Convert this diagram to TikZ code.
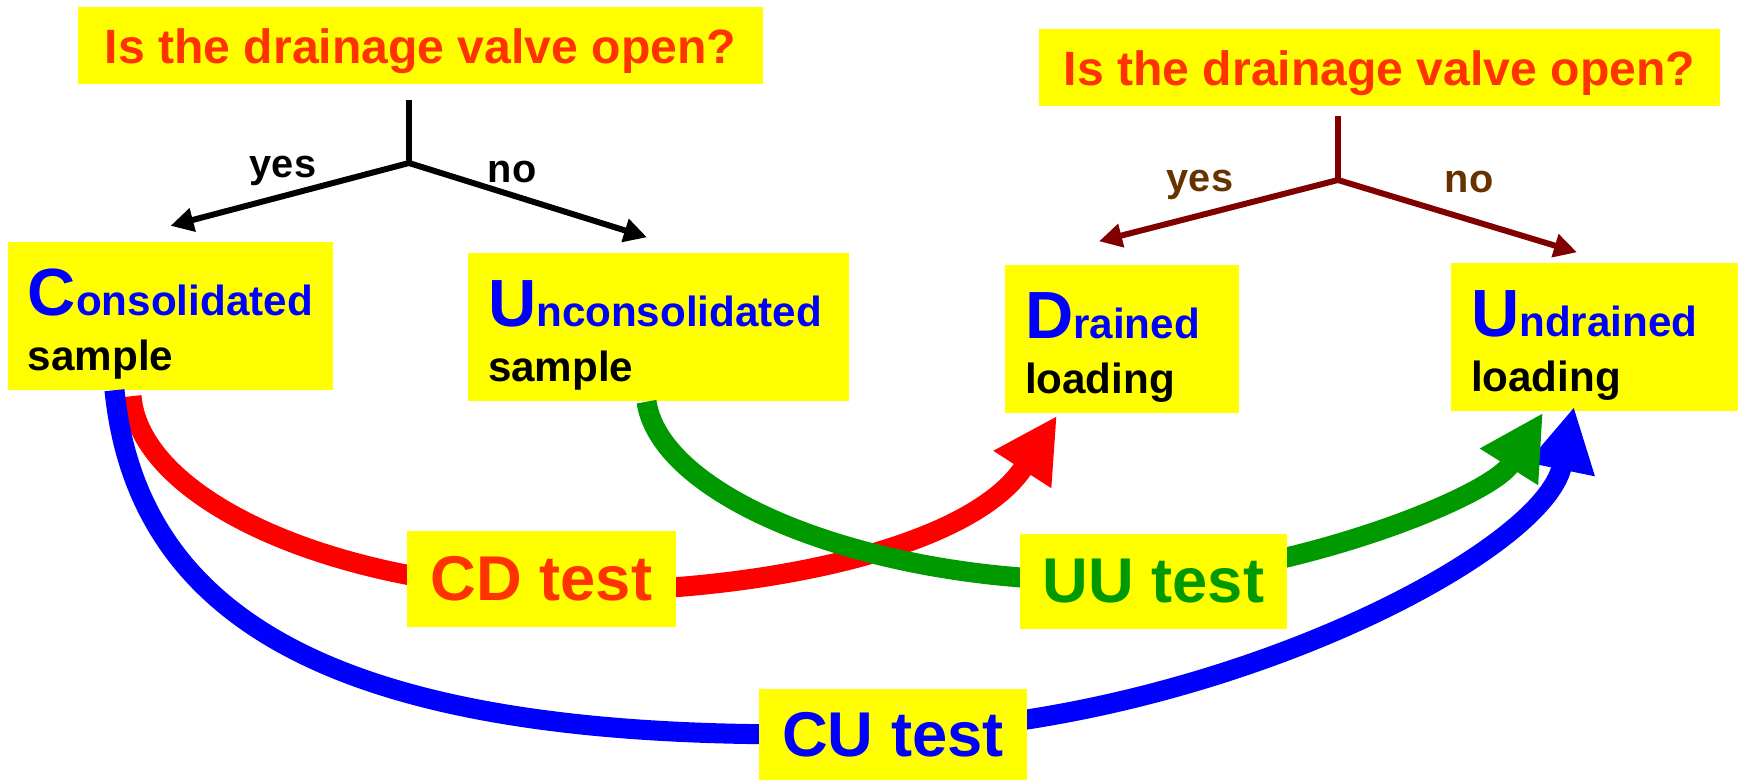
\documentclass[tikz,border=0pt]{standalone}
\usepackage{fontspec}
\setmainfont{Liberation Sans}
\usetikzlibrary{arrows.meta, calc}
\definecolor{keyyellow}{RGB}{255, 255, 0}
\definecolor{qorange}{RGB}{255, 51, 0}
\definecolor{keyblue}{RGB}{0, 0, 255}
\definecolor{keygreen}{RGB}{0, 153, 0}
\definecolor{keyred}{RGB}{255, 0, 0}
\definecolor{keymaroon}{RGB}{128, 0, 0}
\definecolor{keybrown}{RGB}{102, 51, 0}
\newcommand{\bigfirst}[1]{{\fontsize{19}{19}\selectfont\rule{0pt}{18pt}#1}}

\tikzset{
  qbox/.style={fill=keyyellow, inner sep=0pt, minimum height=0.77cm, text height=0.45cm, text depth=0.10cm,
    text=qorange, font=\fontsize{13.7}{16}\selectfont\bfseries},
  termbox/.style={fill=keyyellow, inner xsep=0.2cm, inner ysep=0pt, minimum height=1.48cm, align=left,
    font=\fontsize{12}{15.6}\selectfont\bfseries},
  testbox/.style={fill=keyyellow, inner sep=0pt, font=\fontsize{18}{20}\selectfont\bfseries},
  answer/.style={font=\fontsize{11.3}{13}\selectfont\bfseries},
  stem/.style={line width=1.7pt},
  branch/.style={stem, -{Triangle[length=2.3mm, width=2.3mm]}},
  bigarrow/.style={line width=5.7pt, -{Triangle[length=6.4mm, width=6.4mm]}},
}

\begin{document}
\begin{tikzpicture}
  \useasboundingbox (0,0) rectangle (17.40,7.81);
  % Questions
  \node[qbox, minimum width=6.85cm] (q1) at (4.205,7.355) {Is the drainage valve open?};
  \node[qbox, minimum width=6.81cm] (q2) at (13.795,7.135) {Is the drainage valve open?};
  % Sample boxes
  \node[termbox, text width=2.85cm, minimum width=3.25cm] (cons) at (1.705,4.655)
        {\textcolor{keyblue}{\bigfirst{C}onsolidated}\\ sample};
  \node[termbox, text width=3.41cm, minimum width=3.81cm] (uncons) at (6.585,4.54)
        {\textcolor{keyblue}{\bigfirst{U}nconsolidated}\\ sample};
  % Loading boxes
  \node[termbox, text width=1.94cm, minimum width=2.34cm] (drained) at (11.22,4.42)
        {\textcolor{keyblue}{\bigfirst{D}rained}\\ loading};
  \node[termbox, text width=2.47cm, minimum width=2.87cm] (undrained) at (15.945,4.44)
        {\textcolor{keyblue}{\bigfirst{U}ndrained}\\ loading};
  % Left fork
  \coordinate (top1) at (4.09,6.81);
  \coordinate (fork1) at (4.09,6.18);
  \draw[stem] (top1) -- (fork1);
  \draw[branch] (fork1) -- ([yshift=0.15cm]cons.north);
  \draw[branch] (fork1) -- ([shift={(-0.115,0.15)}]uncons.north);
  \node[answer] (yes1) at (2.83,6.10) {yes};
  \node[answer] (no1) at (5.12,6.09) {no};
  % Right fork
  \coordinate (top2) at (13.38,6.65);
  \coordinate (fork2) at (13.38,6.01);
  \draw[stem, keymaroon] (top2) -- (fork2);
  \draw[branch, keymaroon] (fork2) -- ([shift={(-0.23,0.23)}]drained.north);
  \draw[branch, keymaroon] (fork2) -- ([shift={(-0.175,0.10)}]undrained.north);
  \node[answer, keybrown] (yes2) at (12.00,5.96) {yes};
  \node[answer, keybrown] (no2) at (14.69,5.99) {no};
  % Test paths
  \coordinate (cdmid) at (5.80,1.90);
  \coordinate (cumid) at (8.93,0.485);
  \coordinate (uumid) at (11.54,2.025);
  \draw[bigarrow, keyred] ([shift={(-0.39,-0.06)}]cons.south)
        .. controls (1.40,2.80) and (3.40,1.90) .. (cdmid)
        .. controls (7.60,1.90) and (9.71,2.32) .. ([shift={(-0.65,-0.02)}]drained.south);
  \draw[bigarrow, keyblue] ([xshift=-0.56cm]cons.south)
        .. controls (1.405,1.32) and (3.93,0.315) .. (cumid)
        .. controls (12.20,0.60) and (15.44,2.28) .. ([shift={(-0.205,0.05)}]undrained.south);
  \draw[bigarrow, keygreen] ([xshift=-0.12cm]uncons.south)
        .. controls (6.62,2.75) and (9.04,1.865) .. (uumid)
        .. controls (13.04,2.12) and (14.90,2.84) .. ([shift={(-0.515,-0.01)}]undrained.south);
  % Test labels
  \node[testbox, text=qorange, minimum width=2.69cm, minimum height=0.96cm] (cd) at (5.415,2.02) {CD test};
  \node[testbox, text=keygreen, minimum width=2.67cm, minimum height=0.95cm] (uu) at (11.535,1.995) {UU test};
  \node[testbox, text=keyblue, minimum width=2.68cm, minimum height=0.91cm] (cu) at (8.93,0.465) {CU test};
\end{tikzpicture}
\end{document}
